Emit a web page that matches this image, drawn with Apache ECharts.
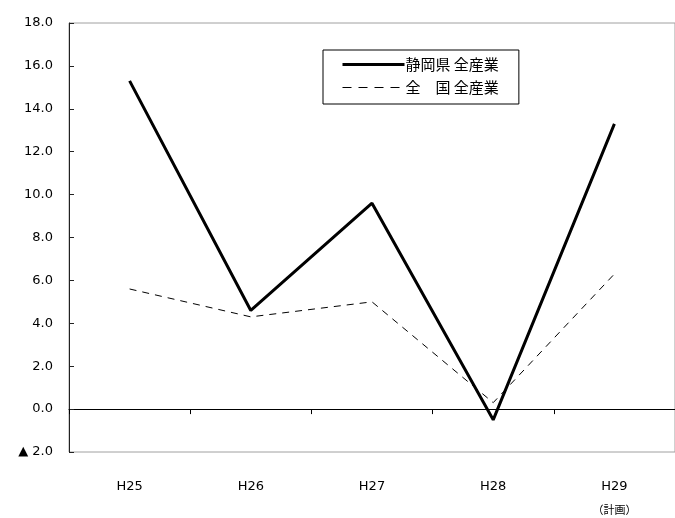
<!DOCTYPE html>
<html>
<head>
<meta charset="utf-8">
<script src="https://cdn.jsdelivr.net/npm/echarts@6/dist/echarts.min.js"></script>
<style>
  html, body { margin: 0; padding: 0; background: #fff; }
  #chart { width: 675px; height: 518px; }
</style>
</head>
<body>
<div id="chart"></div>
<script>
// 年度
const categories = ['H25', 'H26', 'H27', 'H28', 'H29'];
// 年度の下に添える注記
const categoryNotes = ['', '', '', '', '（計画）'];
// 対前年度増減率（%）
const shizuokaAll = [15.3, 4.6, 9.6, -0.5, 13.3];
const nationalAll = [5.6, 4.3, 5.0, 0.3, 6.3];
const seriesNames = ['静岡県 全産業', '全　国 全産業'];

const FONT = '"DejaVu Sans", Verdana, "Noto Sans CJK JP", sans-serif';
const JFONT = '"Noto Sans CJK JP", "DejaVu Sans", sans-serif';

const chart = echarts.init(document.getElementById('chart'), null, { renderer: 'canvas' });

chart.setOption({
  animation: false,
  backgroundColor: '#fff',
  grid: {
    left: 69, top: 23, width: 612, bottom: 66,
    show: true, borderColor: '#a0a0a0', borderWidth: 1, backgroundColor: 'transparent'
  },
  legend: {
    orient: 'vertical',
    left: 323, top: 50,
    padding: [7, 20, 9, 18],
    itemGap: 8,
    itemWidth: 62, itemHeight: 15,
    borderColor: '#000', borderWidth: 1,
    backgroundColor: '#fff',
    itemStyle: { opacity: 0 },
    textStyle: { fontFamily: JFONT, fontSize: 15, color: '#000', padding: [0, 0, 0, -4] },
    data: [
      { name: seriesNames[0], lineStyle: { color: '#000', width: 3 } },
      { name: seriesNames[1], lineStyle: { color: '#000', width: 1, type: [9, 7] } }
    ]
  },
  xAxis: [
    {
      // 年度ラベル（下端）
      type: 'category',
      data: categories,
      position: 'bottom',
      boundaryGap: true,
      axisLine: { show: false, onZero: false },
      axisTick: { show: false },
      axisLabel: {
        margin: 23,
        fontFamily: FONT,
        fontSize: 13,
        color: '#000',
        formatter: (v, i) => categoryNotes[i] ? '{a|' + v + '}\n{b|' + categoryNotes[i] + '}' : '{a|' + v + '}',
        rich: {
          a: { fontFamily: FONT, fontSize: 13, color: '#000', lineHeight: 24 },
          b: { fontFamily: JFONT, fontSize: 11, color: '#000', lineHeight: 22 }
        }
      },
      splitLine: { show: false }
    },
    {
      // 0 の位置の基準線と目盛り
      type: 'category',
      data: categories,
      boundaryGap: true,
      axisLine: { show: true, onZero: true, onZeroAxisIndex: 0, lineStyle: { color: '#000', width: 1 } },
      axisTick: { show: true, inside: true, length: 5, lineStyle: { color: '#000' } },
      axisLabel: { show: false },
      splitLine: { show: false }
    }
  ],
  yAxis: {
    type: 'value',
    min: -2, max: 18, interval: 2,
    axisLine: { show: true, lineStyle: { color: '#222', width: 1 } },
    axisTick: { show: true, inside: true, length: 5, lineStyle: { color: '#222' } },
    axisLabel: {
      margin: 16,
      fontFamily: FONT,
      fontSize: 13,
      color: '#000',
      formatter: v => v < 0 ? '▲ ' + Math.abs(v).toFixed(1) : v.toFixed(1)
    },
    splitLine: { show: false }
  },
  series: [
    {
      name: seriesNames[0],
      type: 'line',
      xAxisIndex: 0,
      data: shizuokaAll,
      symbol: 'none',
      lineStyle: { color: '#000', width: 3 },
      itemStyle: { color: '#000' },
      z: 3
    },
    {
      name: seriesNames[1],
      type: 'line',
      xAxisIndex: 0,
      data: nationalAll,
      symbol: 'none',
      lineStyle: { color: '#000', width: 1, type: [7, 6] },
      itemStyle: { color: '#000' },
      z: 2
    }
  ]
});
</script>
</body>
</html>
